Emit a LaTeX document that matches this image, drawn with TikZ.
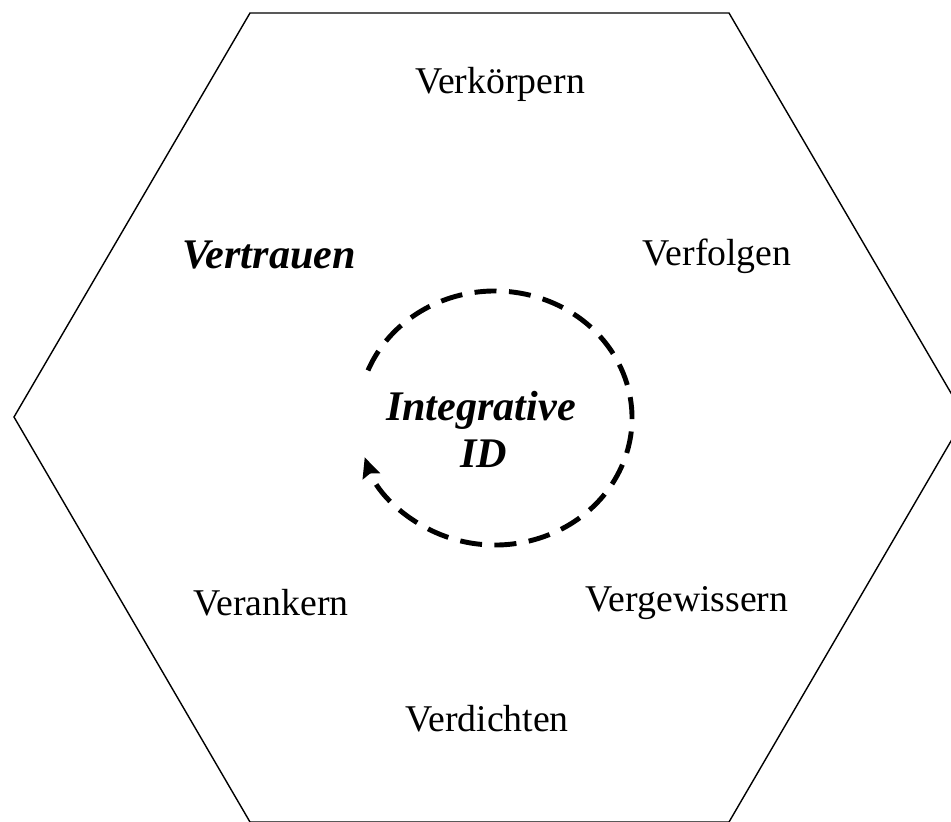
\documentclass[tikz,border=0pt]{standalone}
\usepackage{fontspec}
\setmainfont{Liberation Serif}
\usetikzlibrary{arrows.meta}
\tikzset{
  lbl/.style={font=\fontsize{21.5}{25}\selectfont, inner sep=0pt},
  blbl/.style={font=\fontsize{24}{28}\selectfont\bfseries\itshape, inner sep=0pt, align=center},
  hexline/.style={draw=black, line width=0.8pt, line join=miter},
  cycle arrow/.style={line width=2.8pt, dash pattern=on 0.44cm off 0.25cm, -{Stealth[length=0.4cm,width=0.36cm,inset=0.06cm]}}
}
\begin{document}
\begin{tikzpicture}[x=0.02cm, y=-0.02cm]
\useasboundingbox (0,0) rectangle (951,822);
% hexagon
\coordinate (h1) at (250,13);
\coordinate (h2) at (729,13);
\coordinate (h3) at (965,417);
\coordinate (h4) at (729,822);
\coordinate (h5) at (250,822);
\coordinate (h6) at (14,417);
\draw[hexline] (h1) -- (h2) -- (h3) -- (h4) -- (h5) -- (h6) -- cycle;
% labels
\node[lbl] (verk) at (500,84) {Verkörpern};
\node[lbl] (verf) at (717,256) {Verfolgen};
\node[blbl] (vertr) at (269,255) {Vertrauen};
\node[lbl] (veran) at (271,603) {Verankern};
\node[lbl] (verge) at (687,603) {Vergewissern};
\node[lbl] (verd) at (487,719) {Verdichten};
\node[blbl] (integ) at (481,410) {Integrative};
\node[blbl] (id) at (484,454) {ID};
% dashed cycle
\coordinate (c) at (495,418);
\draw[cycle arrow] ([shift={(158:137 and -127)}]c) arc[start angle=158, end angle=-162, x radius=137, y radius=-127];
\end{tikzpicture}
\end{document}
